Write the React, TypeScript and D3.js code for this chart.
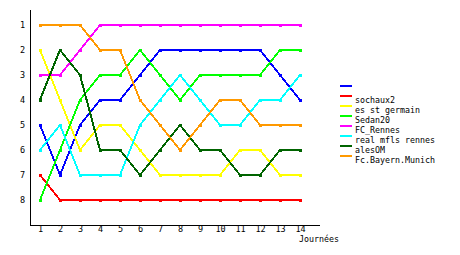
import React from "react";
import * as d3 from "d3";

const journees = [1, 2, 3, 4, 5, 6, 7, 8, 9, 10, 11, 12, 13, 14];
const rankTicks = [1, 2, 3, 4, 5, 6, 7, 8];

const seriesNames = ["", "sochaux2", "es st germain", "Sedan20", "FC_Rennes", "real mfls rennes", "alesOM", "Fc.Bayern.Munich"];
const seriesColors = ["#0000ff", "#ff0000", "#ffff00", "#00ff00", "#ff00ff", "#00ffff", "#006400", "#ff9900"];

const blueRanks = [5, 7, 5, 4, 4, 3, 2, 2, 2, 2, 2, 2, 3, 4];
const sochauxRanks = [7, 8, 8, 8, 8, 8, 8, 8, 8, 8, 8, 8, 8, 8];
const germainRanks = [2, 4, 6, 5, 5, 6, 7, 7, 7, 7, 6, 6, 7, 7];
const sedanRanks = [8, 6, 4, 3, 3, 2, 3, 4, 3, 3, 3, 3, 2, 2];
const rennesRanks = [3, 3, 2, 1, 1, 1, 1, 1, 1, 1, 1, 1, 1, 1];
const realRanks = [6, 5, 7, 7, 7, 5, 4, 3, 4, 5, 5, 4, 4, 3];
const alesRanks = [4, 2, 3, 6, 6, 7, 6, 5, 6, 6, 7, 7, 6, 6];
const bayernRanks = [1, 1, 1, 2, 2, 4, 5, 6, 5, 4, 4, 5, 5, 5];

const allSeries = [blueRanks, sochauxRanks, germainRanks, sedanRanks, rennesRanks, realRanks, alesRanks, bayernRanks];

const xLabel = "Journées";

export default function App() {
  const x = d3.scaleLinear().domain([0.5, 15]).range([30, 320]);
  const y = d3.scaleLinear().domain([0, 9]).range([0, 225]);
  const line = d3
    .line<number>()
    .x((_, i) => x(journees[i]))
    .y((d) => y(d));
  const font = "'DejaVu Sans Mono', monospace";

  return (
    <svg width={460} height={255} style={{ position: "absolute", left: 0, top: 0, background: "#fff" }}>
      <rect x={0} y={0} width={460} height={255} fill="#fff" />
      {/* axes */}
      <line x1={30.5} y1={y(0.4)} x2={30.5} y2={y(9) + 0.5} stroke="#000" strokeWidth={1} shapeRendering="crispEdges" />
      <line x1={30} y1={y(9) + 0.5} x2={x(15)} y2={y(9) + 0.5} stroke="#000" strokeWidth={1} shapeRendering="crispEdges" />
      {journees.map((j) => (
        <text key={j} x={x(j) + 0.5} y={y(9) + 6.5} fontFamily={font} fontSize={8.5} textAnchor="middle">
          {j}
        </text>
      ))}
      {rankTicks.map((r) => (
        <text key={r} x={25} y={y(r) + 3} fontFamily={font} fontSize={8.5} textAnchor="end">
          {r}
        </text>
      ))}
      <text x={299} y={242} fontFamily={font} fontSize={8.3}>
        {xLabel}
      </text>
      {/* series */}
      {allSeries.map((s, k) => (
        <g key={k}>
          <path d={line(s) || ""} fill="none" stroke={seriesColors[k]} strokeWidth={2} shapeRendering="crispEdges" />
          {s.map((v, i) => (
            <rect
              key={i}
              x={x(journees[i]) - 1.5}
              y={y(v) - 1.5}
              width={3}
              height={3}
              fill={seriesColors[k]}
              shapeRendering="crispEdges"
            />
          ))}
        </g>
      ))}
      {/* legend */}
      {seriesNames.map((name, k) => (
        <g key={k} transform={`translate(340, ${85 + k * 10})`}>
          <rect x={0} y={0} width={12} height={2} fill={seriesColors[k]} shapeRendering="crispEdges" />
          <text x={15} y={7.5} fontFamily={font} fontSize={8.3}>
            {name}
          </text>
        </g>
      ))}
    </svg>
  );
}
